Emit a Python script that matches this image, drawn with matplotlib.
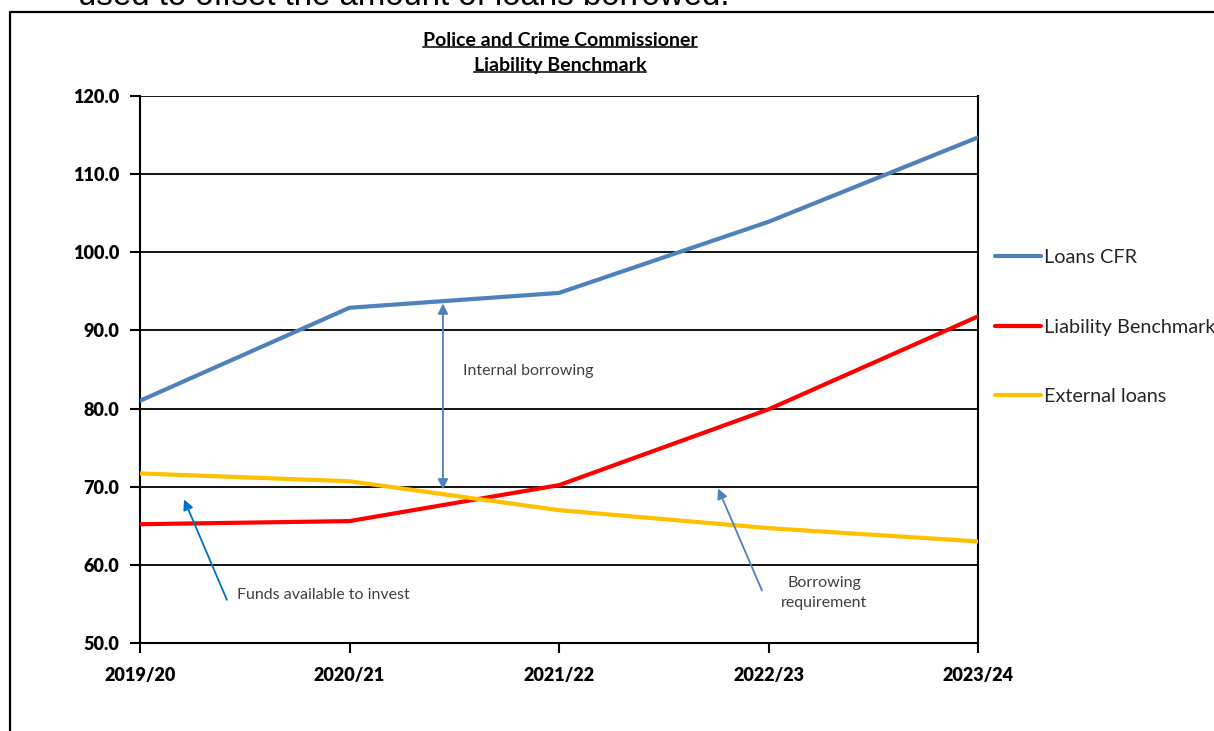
import matplotlib
matplotlib.use('Agg')
import matplotlib.pyplot as plt
from matplotlib.lines import Line2D

years = ['2019/20', '2020/21', '2021/22', '2022/23', '2023/24']
loans_cfr = [81.0, 92.9, 94.8, 103.9, 114.7]
liability_benchmark = [65.2, 65.6, 70.2, 79.9, 91.8]
external_loans = [71.7, 70.7, 67.0, 64.7, 63.0]
y_ticks = [50.0, 60.0, 70.0, 80.0, 90.0, 100.0, 110.0, 120.0]

plt.rcParams['font.family'] = ['Lato', 'DejaVu Sans']

fig = plt.figure(figsize=(12.14, 7.31), dpi=100)
ax = fig.add_axes([140 / 1214, 1 - 643 / 731, (978 - 140) / 1214, (643 - 96) / 731])

x = list(range(len(years)))
ax.plot(x, loans_cfr, color='#4F81BD', lw=3, label='Loans CFR', solid_capstyle='round', zorder=3)
ax.plot(x, liability_benchmark, color='#FF0000', lw=3, label='Liability Benchmark', solid_capstyle='round', zorder=3)
ax.plot(x, external_loans, color='#FFC000', lw=3, label='External loans', solid_capstyle='round', zorder=3)

ax.set_xlim(0, len(years) - 1)
ax.set_ylim(50, 120)
ax.set_xticks(x)
ax.set_xticklabels(years, fontsize=13, fontweight='heavy')
ax.set_yticks(y_ticks)
ax.set_yticklabels(['%.1f' % v for v in y_ticks], fontsize=13, fontweight='heavy')
ax.grid(axis='y', color='black', lw=1.3)
ax.set_axisbelow(True)
for s in ['left', 'bottom', 'right']:
    ax.spines[s].set_linewidth(1.5)
ax.spines['top'].set_visible(False)
ax.tick_params(axis='both', direction='out', length=7, width=1.5, pad=8)
ax.tick_params(axis='x', pad=10)

# annotations
ax.annotate('', xy=(1.446, 93.8), xytext=(1.446, 69.3),
            arrowprops=dict(arrowstyle='<|-|>', color='#4F81BD', lw=1.3, mutation_scale=15))
ax.text(1.542, 84.8, 'Internal borrowing', fontsize=11.5, color='#404040', va='center', ha='left')

ax.annotate('', xy=(0.205, 68.7), xytext=(0.42, 55.2),
            arrowprops=dict(arrowstyle='-|>', color='#0070C0', lw=1.3, mutation_scale=15))
ax.text(0.463, 56.1, 'Funds available to invest', fontsize=11.5, color='#404040', va='center', ha='left')

ax.annotate('', xy=(2.754, 70.1), xytext=(2.974, 56.4),
            arrowprops=dict(arrowstyle='-|>', color='#4F81BD', lw=1.3, mutation_scale=15))
ax.text(3.265, 56.4, 'Borrowing\nrequirement', fontsize=11.5, color='#404040', va='center', ha='center',
        linespacing=1.55)

leg = ax.legend(loc='upper left', bbox_to_anchor=(995 / 1214, 1 - 249 / 731), bbox_transform=fig.transFigure,
                frameon=False, fontsize=14.3, handlelength=2.3, handletextpad=0.15, labelspacing=2.65,
                borderpad=0, borderaxespad=0)
for t in leg.get_texts():
    t.set_color('#262626')

# title with underline
t1 = fig.text(560 / 1214, 1 - 40 / 731, 'Police and Crime Commissioner', fontsize=14, fontweight='bold',
              ha='center', va='center')
t2 = fig.text(560 / 1214, 1 - 65 / 731, 'Liability Benchmark', fontsize=14, fontweight='bold',
              ha='center', va='center')
fig.canvas.draw()
r = fig.canvas.get_renderer()
for t in [t1, t2]:
    bb = t.get_window_extent(r).transformed(fig.transFigure.inverted())
    fig.add_artist(Line2D([bb.x0, bb.x1], [bb.y0 + 0.002, bb.y0 + 0.002], color='black', lw=1.1,
                          transform=fig.transFigure))

# surrounding frame and clipped text above
fig.add_artist(Line2D([10 / 1214, 10 / 1214, 1.0], [0.0, 1 - 12 / 731, 1 - 12 / 731], color='black', lw=1.6,
                      transform=fig.transFigure))
fig.text(78 / 1214, 1 - 5 / 731, 'used to offset the amount of loans borrowed.', fontsize=23.8,
         family='Liberation Sans', ha='left', va='baseline')

fig.savefig('out.png', dpi=100)
